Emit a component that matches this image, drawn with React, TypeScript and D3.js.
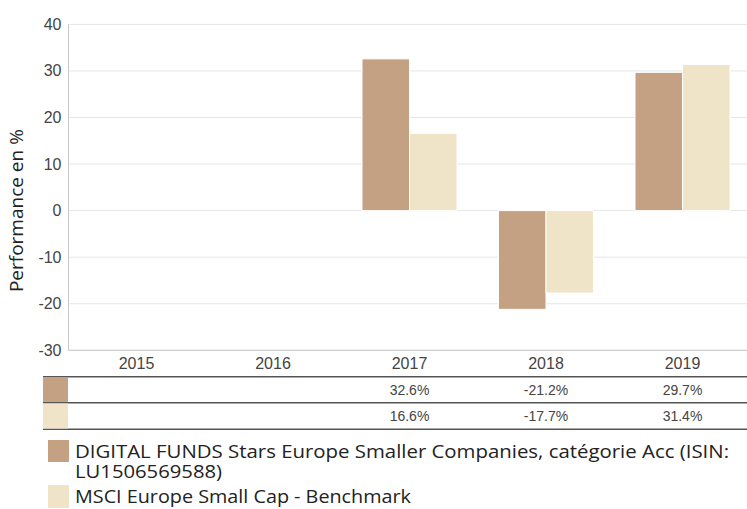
import * as d3 from 'd3'

const YEARS = ['2015', '2016', '2017', '2018', '2019']
const FUND_VALUES: (number | null)[] = [null, null, 32.6, -21.2, 29.7]
const BENCH_VALUES: (number | null)[] = [null, null, 16.6, -17.7, 31.4]
const SERIES_NAMES = [
  'DIGITAL FUNDS Stars Europe Smaller Companies, catégorie Acc (ISIN:',
  'MSCI Europe Small Cap - Benchmark',
]
const SERIES_NAME_CONT = 'LU1506569588)'
const SERIES_COLORS = ['#c4a183', '#efe3c8']
const Y_TICKS = [-30, -20, -10, 0, 10, 20, 30, 40]

const WIDTH = 747
const HEIGHT = 509
const PLOT = { left: 68.25, right: 750.75, top: 24.4, bottom: 350.3 }
const AXIS_FONT = '"Liberation Sans", Arial, sans-serif'
const LEGEND_FONT = '"Open Sans", "Noto Sans", sans-serif'

export default function App() {
  const x0 = d3.scaleBand<string>().domain(YEARS).range([PLOT.left, PLOT.right])
  const bw = x0.bandwidth()
  const x1 = d3
    .scaleBand<number>()
    .domain([0, 1])
    .range([bw * 0.152, bw * 0.848])
  const y = d3.scaleLinear().domain([-30, 40]).range([PLOT.bottom, PLOT.top])
  const series = [FUND_VALUES, BENCH_VALUES]
  const fmt = (v: number) => `${v.toFixed(1)}%`
  const rowLines = [376.7, 402.7, 429.3]

  return (
    <svg
      width={WIDTH}
      height={HEIGHT}
      style={{ position: 'absolute', left: 0, top: 0, background: '#fff' }}
    >
      {Y_TICKS.map((t) => (
        <g key={t}>
          <line x1={PLOT.left} x2={PLOT.right} y1={y(t)} y2={y(t)} stroke="#e6e6e6" strokeWidth={1} />
          <text
            x={61.5}
            y={y(t) + 5.5}
            textAnchor="end"
            fontFamily={AXIS_FONT}
            fontSize={16}
            fill="#444"
          >
            {t}
          </text>
        </g>
      ))}
      <line x1={PLOT.left + 0.25} x2={PLOT.left + 0.25} y1={PLOT.top} y2={PLOT.bottom} stroke="#c8c8c8" />
      <line x1={PLOT.left} x2={PLOT.right} y1={PLOT.bottom} y2={PLOT.bottom} stroke="#c8c8c8" />

      <text
        transform={`translate(23 ${y(0)}) rotate(-90)`}
        textAnchor="middle"
        fontFamily={LEGEND_FONT}
        fontSize={19}
        fill="#222"
      >
        Performance en %
      </text>

      {series.map((vals, si) =>
        vals.map((v, i) =>
          v === null ? null : (
            <rect
              key={`${si}-${i}`}
              x={(x0(YEARS[i]) ?? 0) + (x1(si) ?? 0)}
              y={y(Math.max(0, v))}
              width={x1.bandwidth()}
              height={Math.abs(y(v) - y(0))}
              fill={SERIES_COLORS[si]}
              stroke="#fff"
              strokeWidth={1}
            />
          )
        )
      )}

      {YEARS.map((yr) => (
        <text
          key={yr}
          x={(x0(yr) ?? 0) + bw / 2}
          y={369}
          textAnchor="middle"
          fontFamily={AXIS_FONT}
          fontSize={16}
          fill="#444"
        >
          {yr}
        </text>
      ))}

      {rowLines.map((ly) => (
        <line key={ly} x1={43} x2={WIDTH} y1={ly} y2={ly} stroke="#555" strokeWidth={1.5} />
      ))}
      {SERIES_COLORS.map((c, si) => (
        <rect
          key={c}
          x={43}
          y={rowLines[si] + 0.75}
          width={25}
          height={rowLines[si + 1] - rowLines[si] - 1.5}
          fill={c}
        />
      ))}
      {series.map((vals, si) =>
        vals.map((v, i) =>
          v === null ? null : (
            <text
              key={`t${si}-${i}`}
              x={(x0(YEARS[i]) ?? 0) + bw / 2}
              y={(rowLines[si] + rowLines[si + 1]) / 2 + 5}
              textAnchor="middle"
              fontFamily={AXIS_FONT}
              fontSize={14}
              fill="#444"
            >
              {fmt(v)}
            </text>
          )
        )
      )}

      <rect x={48} y={440} width={21} height={22} fill={SERIES_COLORS[0]} />
      <text fontFamily={LEGEND_FONT} fontSize={18} fill="#222">
        <tspan x={75} y={458} textLength={654} lengthAdjust="spacingAndGlyphs">
          {SERIES_NAMES[0]}
        </tspan>
        <tspan x={75} y={478} textLength={147} lengthAdjust="spacingAndGlyphs">
          {SERIES_NAME_CONT}
        </tspan>
      </text>
      <rect x={48} y={485} width={21} height={23} fill={SERIES_COLORS[1]} />
      <text x={75} y={503} fontFamily={LEGEND_FONT} fontSize={18} textLength={336} lengthAdjust="spacingAndGlyphs" fill="#222">
        {SERIES_NAMES[1]}
      </text>
    </svg>
  )
}
